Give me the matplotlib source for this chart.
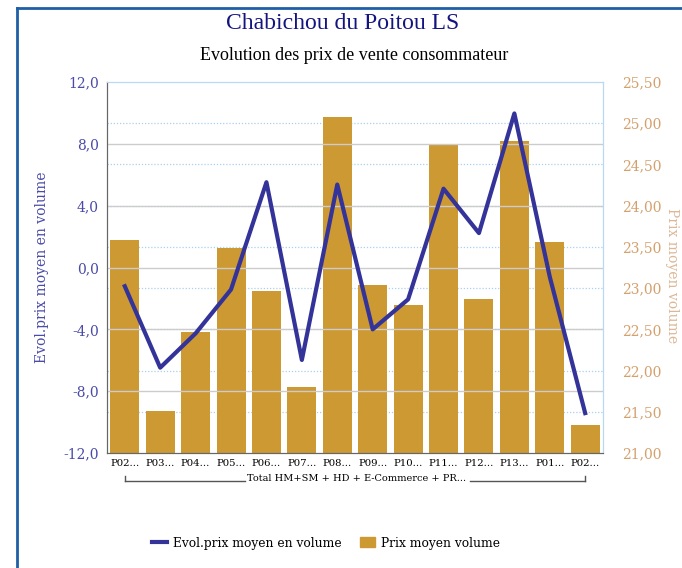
import numpy as np
import matplotlib
matplotlib.use("Agg")
import matplotlib.pyplot as plt
from matplotlib.lines import Line2D
from matplotlib.patches import Patch

periods = ["P02...", "P03...", "P04...", "P05...", "P06...", "P07...", "P08...",
           "P09...", "P10...", "P11...", "P12...", "P13...", "P01...", "P02..."]
group_label = "Total HM+SM + HD + E-Commerce + PR..."
prix_moyen = [23.58, 21.51, 22.47, 23.49, 22.96, 21.80, 25.08,
              23.04, 22.79, 24.75, 22.87, 24.78, 23.56, 21.34]
evol_prix = [-1.21, -6.48, -4.26, -1.42, 5.52, -5.98, 5.37,
             -4.0, -2.06, 5.10, 2.23, 9.97, -0.6, -9.42]
left_ticks = [-12, -8, -4, 0, 4, 8, 12]
right_ticks = [21.0, 21.5, 22.0, 22.5, 23.0, 23.5, 24.0, 24.5, 25.0, 25.5]

bar_col = "#CC9933"
line_col = "#333399"
left_col = "#4a4aa8"
right_col = "#d4a06c"

fig = plt.figure(figsize=(6.82, 5.68), dpi=100)
ax = fig.add_axes([0.157, 0.2025, 0.727, 0.653])
ax2 = ax.twinx()

x = np.arange(len(periods))

# bars on right axis, line on left axis (line drawn on top)
ax2.bar(x, prix_moyen, width=0.82, color=bar_col, zorder=2)
ax2.set_ylim(21, 25.5)
ax2.set_yticks(right_ticks)
ax2.set_yticklabels([f"{v:.2f}".replace(".", ",") for v in right_ticks],
                    color=right_col, family="DejaVu Serif", fontsize=10)
for v in right_ticks[1:-1]:
    ax2.axhline(v, color="#a8d0f0", lw=0.9, ls=(0, (1, 1.5)), zorder=1)

ax.set_ylim(-12, 12)
ax.set_yticks(left_ticks)
ax.set_yticklabels([f"{v:.1f}".replace(".", ",") for v in left_ticks],
                   color=left_col, family="DejaVu Serif", fontsize=10)
for v in left_ticks[1:-1]:
    ax.axhline(v, color="#cccccc", lw=1.0, zorder=0)

ax.set_zorder(ax2.get_zorder() + 1)
ax.patch.set_visible(False)
ax.plot(x, evol_prix, color=line_col, lw=3, zorder=5)

ax.set_xlim(-0.5, len(periods) - 0.5)
ax.set_xticks(x)
ax.set_xticklabels(periods, family="DejaVu Serif", fontsize=7.3)
ax.tick_params(axis="x", length=0, pad=4)
ax.tick_params(axis="y", length=0, pad=6)
ax2.tick_params(axis="y", length=0, pad=14)

for a in (ax, ax2):
    a.spines["left"].set_color("#666666")
    a.spines["bottom"].set_color("#666666")
    a.spines["right"].set_color("#b8d8f4")
    a.spines["top"].set_color("#b8d8f4")

ax.set_ylabel("Evol.prix moyen en volume", color=left_col,
              family="DejaVu Serif", fontsize=10, labelpad=10)
fig.text(0.986, 0.514, "Prix moyen volume", color="#dcb896", family="DejaVu Serif",
         fontsize=10, rotation=-90, ha="center", va="center")

# group bracket under the period labels
tr = ax.get_xaxis_transform()
ax.text(6.55, -0.069, group_label, transform=tr, ha="center", va="center",
        family="DejaVu Serif", fontsize=7)
yb = -0.076
ax.plot([0, 3.4], [yb, yb], transform=tr, color="#555555", lw=1, clip_on=False)
ax.plot([9.75, 13], [yb, yb], transform=tr, color="#555555", lw=1, clip_on=False)
ax.plot([0, 0], [yb, yb + 0.015], transform=tr, color="#555555", lw=1, clip_on=False)
ax.plot([13, 13], [yb, yb + 0.015], transform=tr, color="#555555", lw=1, clip_on=False)

fig.text(0.503, 0.958, "Chabichou du Poitou LS", ha="center", va="center",
         color="#141480", family="Liberation Serif", fontsize=17)
fig.text(0.52, 0.902, "Evolution des prix de vente consommateur", ha="center",
         va="center", color="black", family="Liberation Serif", fontsize=13)

handles = [Line2D([0], [0], color=line_col, lw=3),
           Patch(color=bar_col)]
leg = fig.legend(handles, ["Evol.prix moyen en volume", "Prix moyen volume"],
                 loc="center", bbox_to_anchor=(0.478, 0.044), ncol=2, frameon=False,
                 prop={"family": "DejaVu Serif", "size": 8.8},
                 handlelength=1.2, handleheight=0.9, columnspacing=1.5, handletextpad=0.5)

# outer frame (left and top blue borders)
fig.add_artist(Line2D([0.025, 0.025], [0, 0.986], transform=fig.transFigure,
                      color="#1f5fa8", lw=2))
fig.add_artist(Line2D([0.025, 1], [0.986, 0.986], transform=fig.transFigure,
                      color="#1f5fa8", lw=2))

fig.savefig("out.png", dpi=100)
